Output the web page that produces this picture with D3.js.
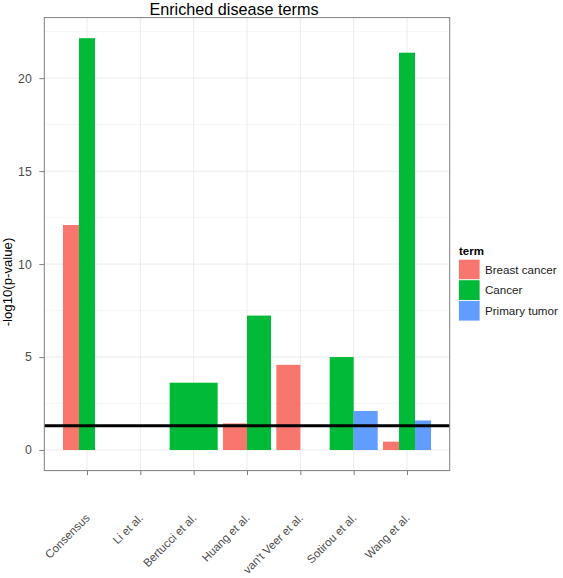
<!DOCTYPE html>
<html>
<head>
<meta charset="utf-8">
<script src="https://cdn.jsdelivr.net/npm/d3@7"></script>
<style>
  html, body { margin: 0; padding: 0; background: #fff; }
  svg { display: block; font-family: "Liberation Sans", Arial, Helvetica, sans-serif; }
</style>
</head>
<body>
<svg id="chart" width="563" height="578"></svg>
<script>
// ---- data ----
const studies = ["Consensus", "Li et al.", "Bertucci et al.", "Huang et al.", "van't Veer et al.", "Sotirou et al.", "Wang et al."];
const terms = ["Breast cancer", "Cancer", "Primary tumor"];
// null = term not present for that study (no dodge slot); 0 = present with zero value
const breastCancer = [12.1, null, null, 1.43, 4.58, null, 0.45];
const cancer       = [22.15, null, 3.62, 7.23, 0, 5.0, 21.37];
const primaryTumor = [0, null, null, null, null, 2.1, 1.59];
const yTicks = [0, 5, 10, 15, 20];
const yMinorTicks = [2.5, 7.5, 12.5, 17.5, 22.5];
const threshold = -Math.log10(0.05);
const colors = ["#F8766D", "#00BA38", "#619CFF"];
const titleText = "Enriched disease terms";
const yTitle = "-log10(p-value)";
const legendTitle = "term";

const series = [breastCancer, cancer, primaryTumor];

// ---- layout ----
const panel = { left: 44.3, right: 449.7, top: 17.6, bottom: 470.6 };
const svg = d3.select("#chart");

const x = d3.scalePoint().domain(studies).range([panel.left, panel.right]).padding(0.8);
const step = x.step();

const maxV = d3.max(series.flat().filter(v => v != null));
const pad = maxV * 0.05;
const y = d3.scaleLinear().domain([-pad, maxV + pad]).range([panel.bottom, panel.top]);

// panel background
svg.append("rect").attr("x", panel.left).attr("y", panel.top)
  .attr("width", panel.right - panel.left).attr("height", panel.bottom - panel.top)
  .attr("fill", "#fff");

// minor grid
svg.append("g").selectAll("line").data(yMinorTicks.filter(t => y(t) > panel.top)).join("line")
  .attr("x1", panel.left).attr("x2", panel.right)
  .attr("y1", d => y(d)).attr("y2", d => y(d))
  .attr("stroke", "#f6f6f6").attr("stroke-width", 1);
// major grid
svg.append("g").selectAll("line").data(yTicks).join("line")
  .attr("x1", panel.left).attr("x2", panel.right)
  .attr("y1", d => y(d)).attr("y2", d => y(d))
  .attr("stroke", "#ebebeb").attr("stroke-width", 1);
svg.append("g").selectAll("line").data(studies).join("line")
  .attr("x1", d => x(d)).attr("x2", d => x(d))
  .attr("y1", panel.top).attr("y2", panel.bottom)
  .attr("stroke", "#ebebeb").attr("stroke-width", 1);

// bars (dodged)
const groupWidth = 0.9 * step;
const barData = [];
studies.forEach((s, i) => {
  const slots = terms.map((t, k) => ({ term: t, k, v: series[k][i] })).filter(d => d.v != null);
  const w = groupWidth / Math.max(slots.length, 1);
  slots.forEach((d, j) => {
    barData.push({ study: s, term: d.term, k: d.k, v: d.v, x0: x(s) - groupWidth / 2 + j * w, w });
  });
});
svg.append("g").selectAll("rect").data(barData.filter(d => d.v > 0)).join("rect")
  .attr("x", d => d.x0).attr("width", d => d.w)
  .attr("y", d => y(d.v)).attr("height", d => y(0) - y(d.v))
  .attr("fill", d => colors[d.k]);

// threshold line
svg.append("line")
  .attr("x1", panel.left).attr("x2", panel.right)
  .attr("y1", y(threshold)).attr("y2", y(threshold))
  .attr("stroke", "#000").attr("stroke-width", 3);

// panel border
svg.append("rect").attr("x", panel.left).attr("y", panel.top)
  .attr("width", panel.right - panel.left).attr("height", panel.bottom - panel.top)
  .attr("fill", "none").attr("stroke", "#7f7f7f").attr("stroke-width", 1);

// y axis
const yAxis = svg.append("g").attr("transform", `translate(${panel.left},0)`)
  .call(d3.axisLeft(y).tickValues(yTicks).tickSize(5).tickPadding(7.5).tickFormat(d3.format("d")));
yAxis.select(".domain").remove();
yAxis.selectAll(".tick line").attr("stroke", "#7f7f7f");
yAxis.selectAll(".tick text").attr("fill", "#4d4d4d").style("font-size", "12.3px")
  .style("font-family", "'Liberation Sans', Arial, sans-serif");

// x axis
const xAxis = svg.append("g").attr("transform", `translate(0,${panel.bottom})`)
  .call(d3.axisBottom(x).tickSize(4.5));
xAxis.select(".domain").remove();
xAxis.selectAll(".tick line").attr("stroke", "#7f7f7f");
xAxis.selectAll(".tick text")
  .attr("fill", "#4d4d4d").style("font-size", "11.5px")
  .style("font-family", "'Liberation Sans', Arial, sans-serif")
  .attr("text-anchor", "end").attr("dy", null).attr("y", null)
  .attr("transform", "translate(3,48) rotate(-45)");

// title
svg.append("text").attr("x", 234).attr("y", 14.5).attr("text-anchor", "middle")
  .style("font-size", "16.2px").attr("fill", "#000").text(titleText);

// y title
svg.append("text").attr("transform", "translate(12,282) rotate(-90)").attr("text-anchor", "middle")
  .style("font-size", "13.2px").attr("fill", "#000").text(yTitle);

// legend
const lg = svg.append("g");
lg.append("text").attr("x", 459).attr("y", 254.5).style("font-size", "11.5px")
  .style("font-weight", "bold").text(legendTitle);
const keyH = 20.6, keyW = 21.5, keyTop = 259.2, keyX = 458.5;
terms.forEach((t, k) => {
  lg.append("rect").attr("x", keyX).attr("y", keyTop + k * keyH).attr("width", keyW).attr("height", keyH)
    .attr("fill", colors[k]).attr("stroke", "#fff").attr("stroke-width", 0.8);
  lg.append("text").attr("x", 485).attr("y", keyTop + k * keyH + keyH / 2).attr("dy", "0.35em")
    .style("font-size", "11.6px").attr("fill", "#1a1a1a").text(t);
});
</script>
</body>
</html>
